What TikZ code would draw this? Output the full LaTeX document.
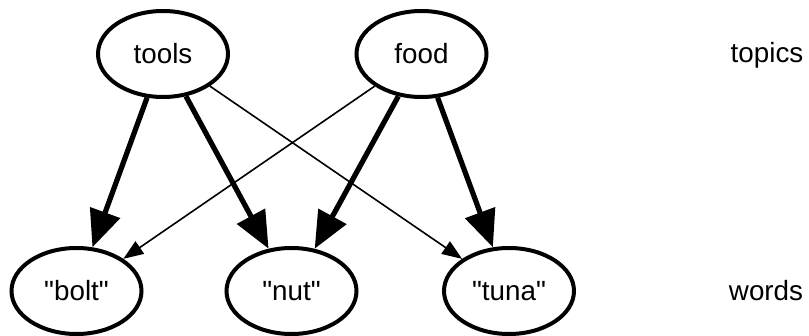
\documentclass[tikz,border=0pt]{standalone}
\usepackage{fontspec}
\setmainfont{Liberation Sans}
\usepackage{tikz}
\usetikzlibrary{shapes,arrows.meta,positioning}
\tikzset{
    blob/.style={ellipse, draw, line width=2pt, minimum width=65pt, minimum height=43pt, inner sep=0pt},
    heavy/.style={line width=2.6pt, -{Triangle[length=18.5pt,width=15.5pt]}},
    light/.style={line width=0.8pt, -{Triangle[length=10pt,width=7.5pt]}}
}

\begin{document}
\begin{tikzpicture}[x=0.5pt, y=-0.5pt, font=\fontsize{13.9}{16}\selectfont]
    \useasboundingbox (0,0) rectangle (809,336);
    % Topics
    \node[blob] (tools) at (163, 54) {tools};
    \node[blob] (food) at (421.5, 54) {food};
    
    % Words
    \foreach \w/\x in {bolt/76.5, nut/291.5, tuna/509} {
        \node[blob] (\w) at (\x, 291) {\textquotedbl\w\textquotedbl};
    }
    
    % Layer labels
    \node (topics) at (767, 55) {topics};
    \node (words) at (766, 291) {words};
    
    % Arrows
    \draw[heavy] (tools) -- (bolt);
    \draw[heavy] (tools) -- (nut);
    \draw[light] (tools) -- (tuna);
    \draw[light] (food) -- (bolt);
    \draw[heavy] (food) -- (nut);
    \draw[heavy] (food) -- (tuna);
\end{tikzpicture}
\end{document}
